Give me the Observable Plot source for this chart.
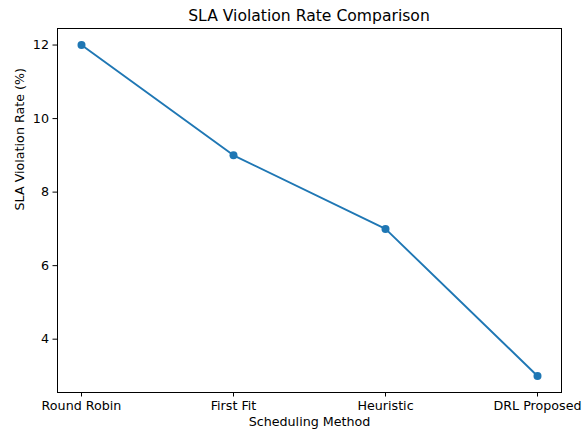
<!DOCTYPE html>
<html>
<head>
<meta charset="utf-8">
<script src="https://cdn.jsdelivr.net/npm/d3@7"></script>
<script src="https://cdn.jsdelivr.net/npm/@observablehq/plot@0.6"></script>
<style>
  html, body { margin: 0; padding: 0; background: #fff; }
  #title { width: 584px; height: 22px; box-sizing: border-box; padding-left: 57px; padding-right: 23px;
           text-align: center; font-family: "DejaVu Sans", sans-serif; font-size: 15.6px; line-height: 16px; padding-top: 8px; color: #000; }
  svg { display: block; }
</style>
</head>
<body>
<div id="title">SLA Violation Rate Comparison</div>
<div id="chart"></div>
<script>
const methods = ["Round Robin", "First Fit", "Heuristic", "DRL Proposed"];
const slaRates = [12, 9, 7, 3];
const yTicks = [4, 6, 8, 10, 12];

const data = methods.map((m, i) => ({method: m, rate: slaRates[i]}));

const chart = Plot.plot({
  width: 584,
  height: 411,
  marginLeft: 57,
  marginRight: 23,
  marginTop: 6,
  marginBottom: 41,
  style: {fontFamily: "DejaVu Sans, sans-serif", fontSize: "12.7px", color: "#000", background: "#fff"},
  x: {type: "point", domain: methods, padding: 0.15, label: null},
  y: {domain: [2.55, 12.45], label: null},
  marks: [
    Plot.frame({stroke: "#000", strokeWidth: 1}),
    Plot.axisX({ticks: methods, tickSize: 4.5, tickPadding: 4, fontSize: 12.7, label: null}),
    Plot.axisY({ticks: yTicks, tickSize: 4.5, tickPadding: 4, fontSize: 12.7, label: null}),
    Plot.line(data, {x: "method", y: "rate", stroke: "#1f77b4", strokeWidth: 1.9}),
    Plot.dot(data, {x: "method", y: "rate", r: 4, fill: "#1f77b4", stroke: "none"}),
    Plot.text(["Scheduling Method"], {frameAnchor: "bottom", dy: 33, fontSize: 12.7, fill: "#000"}),
    Plot.text(["SLA Violation Rate (%)"], {frameAnchor: "left", dx: -38, rotate: -90, fontSize: 12.7, fill: "#000"})
  ]
});
document.getElementById("chart").appendChild(chart);
</script>
</body>
</html>
